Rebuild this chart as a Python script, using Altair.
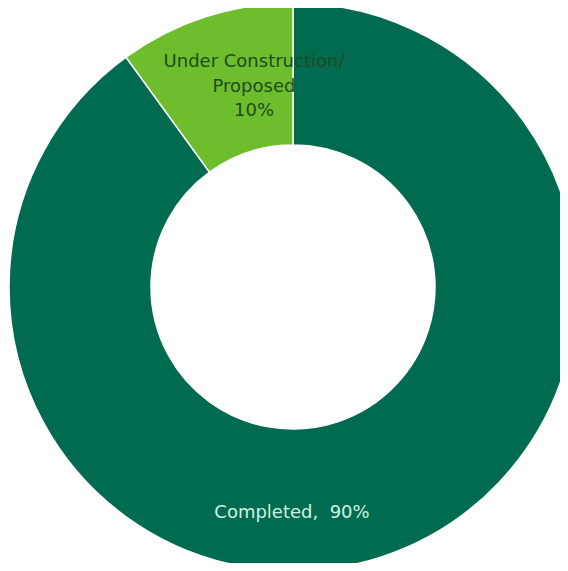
import altair as alt
import pandas as pd

categories = ["Completed", "Under Construction/Proposed"]
shares = [90, 10]
colors = ["#006B4F", "#6DBD2C"]
label_texts = ["Completed,\u00a0 90%", "Under Construction/\nProposed\n10%"]

df = pd.DataFrame({"category": categories, "share": shares, "order": [0, 1]})
lab = pd.DataFrame({"category": categories, "text": label_texts})

CX, CY = 285, 279

arc = alt.Chart(df).mark_arc(
    outerRadius=284, innerRadius=142, stroke="white", strokeWidth=1.5
).encode(
    theta=alt.Theta("share:Q", stack=True),
    order=alt.Order("order:Q"),
    color=alt.Color("category:N", scale=alt.Scale(domain=categories, range=colors), legend=None),
    x=alt.value(CX), y=alt.value(CY),
)

t1 = alt.Chart(lab).transform_filter(alt.datum.category == categories[0]).mark_text(
    font="DejaVu Sans", fontSize=18, color="#CFF3E3", align="center", baseline="middle"
).encode(text="text:N", x=alt.value(CX - 1), y=alt.value(505))

t2 = alt.Chart(lab).transform_filter(alt.datum.category == categories[1]).mark_text(
    font="DejaVu Sans", fontSize=18, color="#1F4A1F", align="center", baseline="middle",
    lineBreak="\n", lineHeight=24.5
).encode(text="text:N", x=alt.value(CX - 39), y=alt.value(54))

chart = alt.layer(arc, t1, t2).properties(
    width=552, height=555, padding=0, autosize=alt.AutoSizeParams(type="none")
).configure_view(stroke=None)

chart.save("out.html", embed_options={"renderer": "svg", "actions": False})
